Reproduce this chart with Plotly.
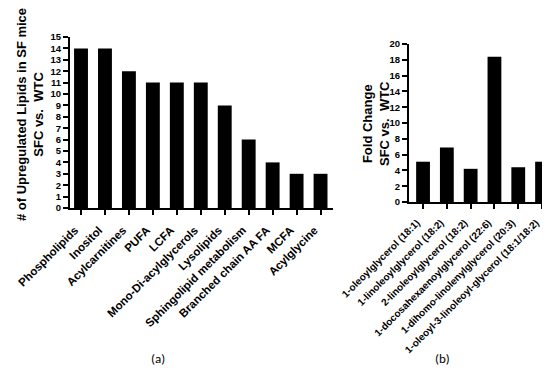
import plotly.graph_objects as go

cats_a = ["Phospholipids", "Inositol", "Acylcarnitines", "PUFA", "LCFA",
          "Mono-Di-acylglycerols", "Lysolipids", "Sphingolipid metabolism",
          "Branched chain AA FA", "MCFA", "Acylglycine"]
vals_a = [14, 14, 12, 11, 11, 11, 9, 6, 4, 3, 3]
yticks_a = list(range(0, 16, 1))

cats_b = ["1-oleoylglycerol (18:1)", "1-linoleoylglycerol (18:2)",
          "2-linoleoylglycerol (18:2)", "1-docosahexaenoylglycerol (22:6)",
          "1-dihomo-linolenylglycerol (20:3)", "1-oleoyl-3-linoleoyl-glycerol (18:1/18:2)"]
vals_b = [5.1, 6.9, 4.2, 18.4, 4.4, 5.1]
yticks_b = list(range(0, 21, 2))

FONT = "Liberation Sans"
W, H = 550, 371

def bold(items):
    return ["<b>%s</b>" % s for s in items]

fig = go.Figure()
fig.add_trace(go.Bar(x=list(range(len(cats_a))), y=vals_a, marker=dict(color="black", line=dict(width=0)),
                     width=0.58, xaxis="x", yaxis="y", showlegend=False))
fig.add_trace(go.Bar(x=list(range(len(cats_b))), y=vals_b, marker=dict(color="black", line=dict(width=0)),
                     width=0.58, xaxis="x2", yaxis="y2", showlegend=False))

def ax(size):
    return dict(showgrid=False, zeroline=False, showline=True, linecolor="black", linewidth=2,
                ticks="outside", ticklen=5, tickwidth=2, tickcolor="black", automargin=False,
                tickfont=dict(family=FONT, size=size, color="black"))

fig.update_layout(
    width=W, height=H, margin=dict(l=0, r=0, t=0, b=0),
    paper_bgcolor="white", plot_bgcolor="white",
    xaxis=dict(domain=[62/W, 325/W], anchor="y", range=[-0.46, 10.52],
               tickmode="array", tickvals=list(range(len(cats_a))), ticktext=bold(cats_a),
               tickangle=-45, ticklabelshift=-6, ticklabelstandoff=4, **ax(11.5)),
    yaxis=dict(domain=[1-200/H, 1-29/H], anchor="x", range=[0, 15],
               tickmode="array", tickvals=yticks_a, ticktext=bold([str(v) for v in yticks_a]),
               **ax(9.5)),
    xaxis2=dict(domain=[401/W, 545/W], anchor="y2", range=[-0.59, 5.46],
                tickmode="array", tickvals=list(range(len(cats_b))), ticktext=bold(cats_b),
                tickangle=-45, ticklabelshift=-6, ticklabelstandoff=4, **ax(10)),
    yaxis2=dict(domain=[1-194/H, 1-36/H], anchor="x2", range=[0, 20],
                tickmode="array", tickvals=yticks_b, ticktext=bold([str(v) for v in yticks_b]),
                **ax(9.5)),
    annotations=[
        dict(text="<b># of Upregulated Lipids in SF mice<br>SFC vs.  WTC</b>", textangle=-90,
             x=22/W, y=1-107/H, xref="paper", yref="paper", showarrow=False,
             xanchor="center", yanchor="middle",
             font=dict(family=FONT, size=13, color="black")),
        dict(text="<b>Fold Change<br>SFC vs.  WTC</b>", textangle=-90,
             x=368/W, y=1-116/H, xref="paper", yref="paper", showarrow=False,
             xanchor="center", yanchor="middle",
             font=dict(family=FONT, size=13, color="black")),
        dict(text="(a)", x=141/W, y=1-360/H, xref="paper", yref="paper", showarrow=False,
             font=dict(family="Carlito, Liberation Sans", size=13, color="black")),
        dict(text="(b)", x=444/W, y=1-360/H, xref="paper", yref="paper", showarrow=False,
             font=dict(family="Carlito, Liberation Sans", size=13, color="black")),
    ],
)

fig.write_html("out.html")
